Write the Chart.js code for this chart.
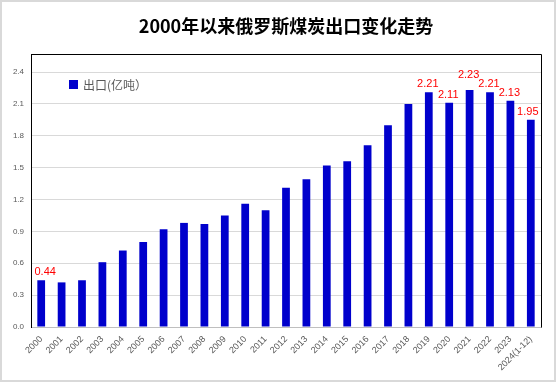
<!DOCTYPE html>
<html><head><meta charset="utf-8">
<script src="https://cdn.jsdelivr.net/npm/chart.js@4/dist/chart.umd.min.js"></script>
<style>html,body{margin:0;padding:0;background:#fff;}#wrap{width:556px;height:382px;position:relative;}</style>
</head><body><div id="wrap"><canvas id="c" width="556" height="382"></canvas></div>
<script>
const titleText = '2000年以来俄罗斯煤炭出口变化走势';
const seriesName = '出口(亿吨）';
const categories = ['2000','2001','2002','2003','2004','2005','2006','2007','2008','2009','2010','2011','2012','2013','2014','2015','2016','2017','2018','2019','2020','2021','2022','2023','2024(1-12)'];
const exportValues = [0.44,0.42,0.44,0.61,0.72,0.80,0.92,0.98,0.97,1.05,1.16,1.10,1.31,1.39,1.52,1.56,1.71,1.90,2.10,2.21,2.11,2.23,2.21,2.13,1.95];
const labelShown = [true,false,false,false,false,false,false,false,false,false,false,false,false,false,false,false,false,false,false,true,true,true,true,true,true];
const yTicks = [0,0.3,0.6,0.9,1.2,1.5,1.8,2.1,2.4];

const deco = {
  id:'deco',
  afterDraw(chart){
    const ctx = chart.ctx, a = chart.chartArea;
    ctx.save();
    ctx.strokeStyle = '#d9d9d9'; ctx.lineWidth = 2;
    ctx.strokeRect(1,1,554,380);
    ctx.strokeStyle = '#000'; ctx.lineWidth = 1;
    ctx.beginPath();
    ctx.moveTo(Math.round(a.left)+0.5, Math.round(a.top)+0.5);
    ctx.lineTo(Math.round(a.right)+0.5, Math.round(a.top)+0.5);
    ctx.lineTo(Math.round(a.right)+0.5, Math.round(a.bottom)+0.5);
    ctx.stroke();
    ctx.fillStyle = '#000';
    ctx.font = 'bold 18px "Noto Sans CJK SC", sans-serif';
    ctx.textAlign = 'center'; ctx.textBaseline = 'middle';
    ctx.fillText(titleText, (a.left + a.right)/2, 26);
    ctx.fillStyle = '#0000CC';
    ctx.fillRect(69, 80, 9, 9);
    ctx.fillStyle = '#595959';
    ctx.font = '12px "Noto Sans CJK SC", sans-serif';
    ctx.textAlign = 'left';
    ctx.fillText(chart.data.datasets[0].label, 83, 85);
    const meta = chart.getDatasetMeta(0);
    ctx.fillStyle = '#FF0000';
    ctx.font = '11px "Liberation Sans", Arial, sans-serif';
    ctx.textAlign = 'center'; ctx.textBaseline = 'alphabetic';
    const n = meta.data.length;
    meta.data.forEach((bar, i) => {
      if (!labelShown[i]) return;
      const v = chart.data.datasets[0].data[i];
      // Excel-style label nudges to avoid overlap / clipping
      const lift = (i === 21) ? 12 : 5;
      const dx = (i === 0) ? 4 : (i === n - 1) ? -3 : -1;
      ctx.fillText(v.toFixed(2), bar.x + dx, bar.y - lift);
    });
    ctx.restore();
  }
};

new Chart(document.getElementById('c'), {
  type:'bar',
  data:{ labels: categories, datasets:[{ label: seriesName, data: exportValues, backgroundColor:'#0000CC', barPercentage:0.38, categoryPercentage:1.0 }]},
  options:{
    responsive:false, animation:false,
    layout:{ padding:{ top:54, right:15, left:0, bottom:0 } },
    plugins:{ legend:{display:false}, title:{display:false}, tooltip:{enabled:false} },
    scales:{
      x:{
        grid:{ display:false, drawTicks:false },
        border:{ color:'#bfbfbf' },
        ticks:{ color:'#595959', font:{ size:9, family:'"Liberation Sans", Arial, sans-serif' }, minRotation:45, maxRotation:45, autoSkip:false, padding:7 },
        afterFit(s){ s.height = 55; }
      },
      y:{
        min:0, max:2.57,
        grid:{ color:'#d9d9d9', drawTicks:false },
        border:{ color:'#000' },
        afterBuildTicks(s){ s.ticks = yTicks.map(v => ({value:v})); },
        ticks:{ color:'#595959', font:{ size:8, family:'"Liberation Sans", Arial, sans-serif' }, padding:7, callback:(v)=>Number(v).toFixed(1) },
        afterFit(s){ s.width = 31; }
      }
    }
  },
  plugins:[deco]
});
</script></body></html>
